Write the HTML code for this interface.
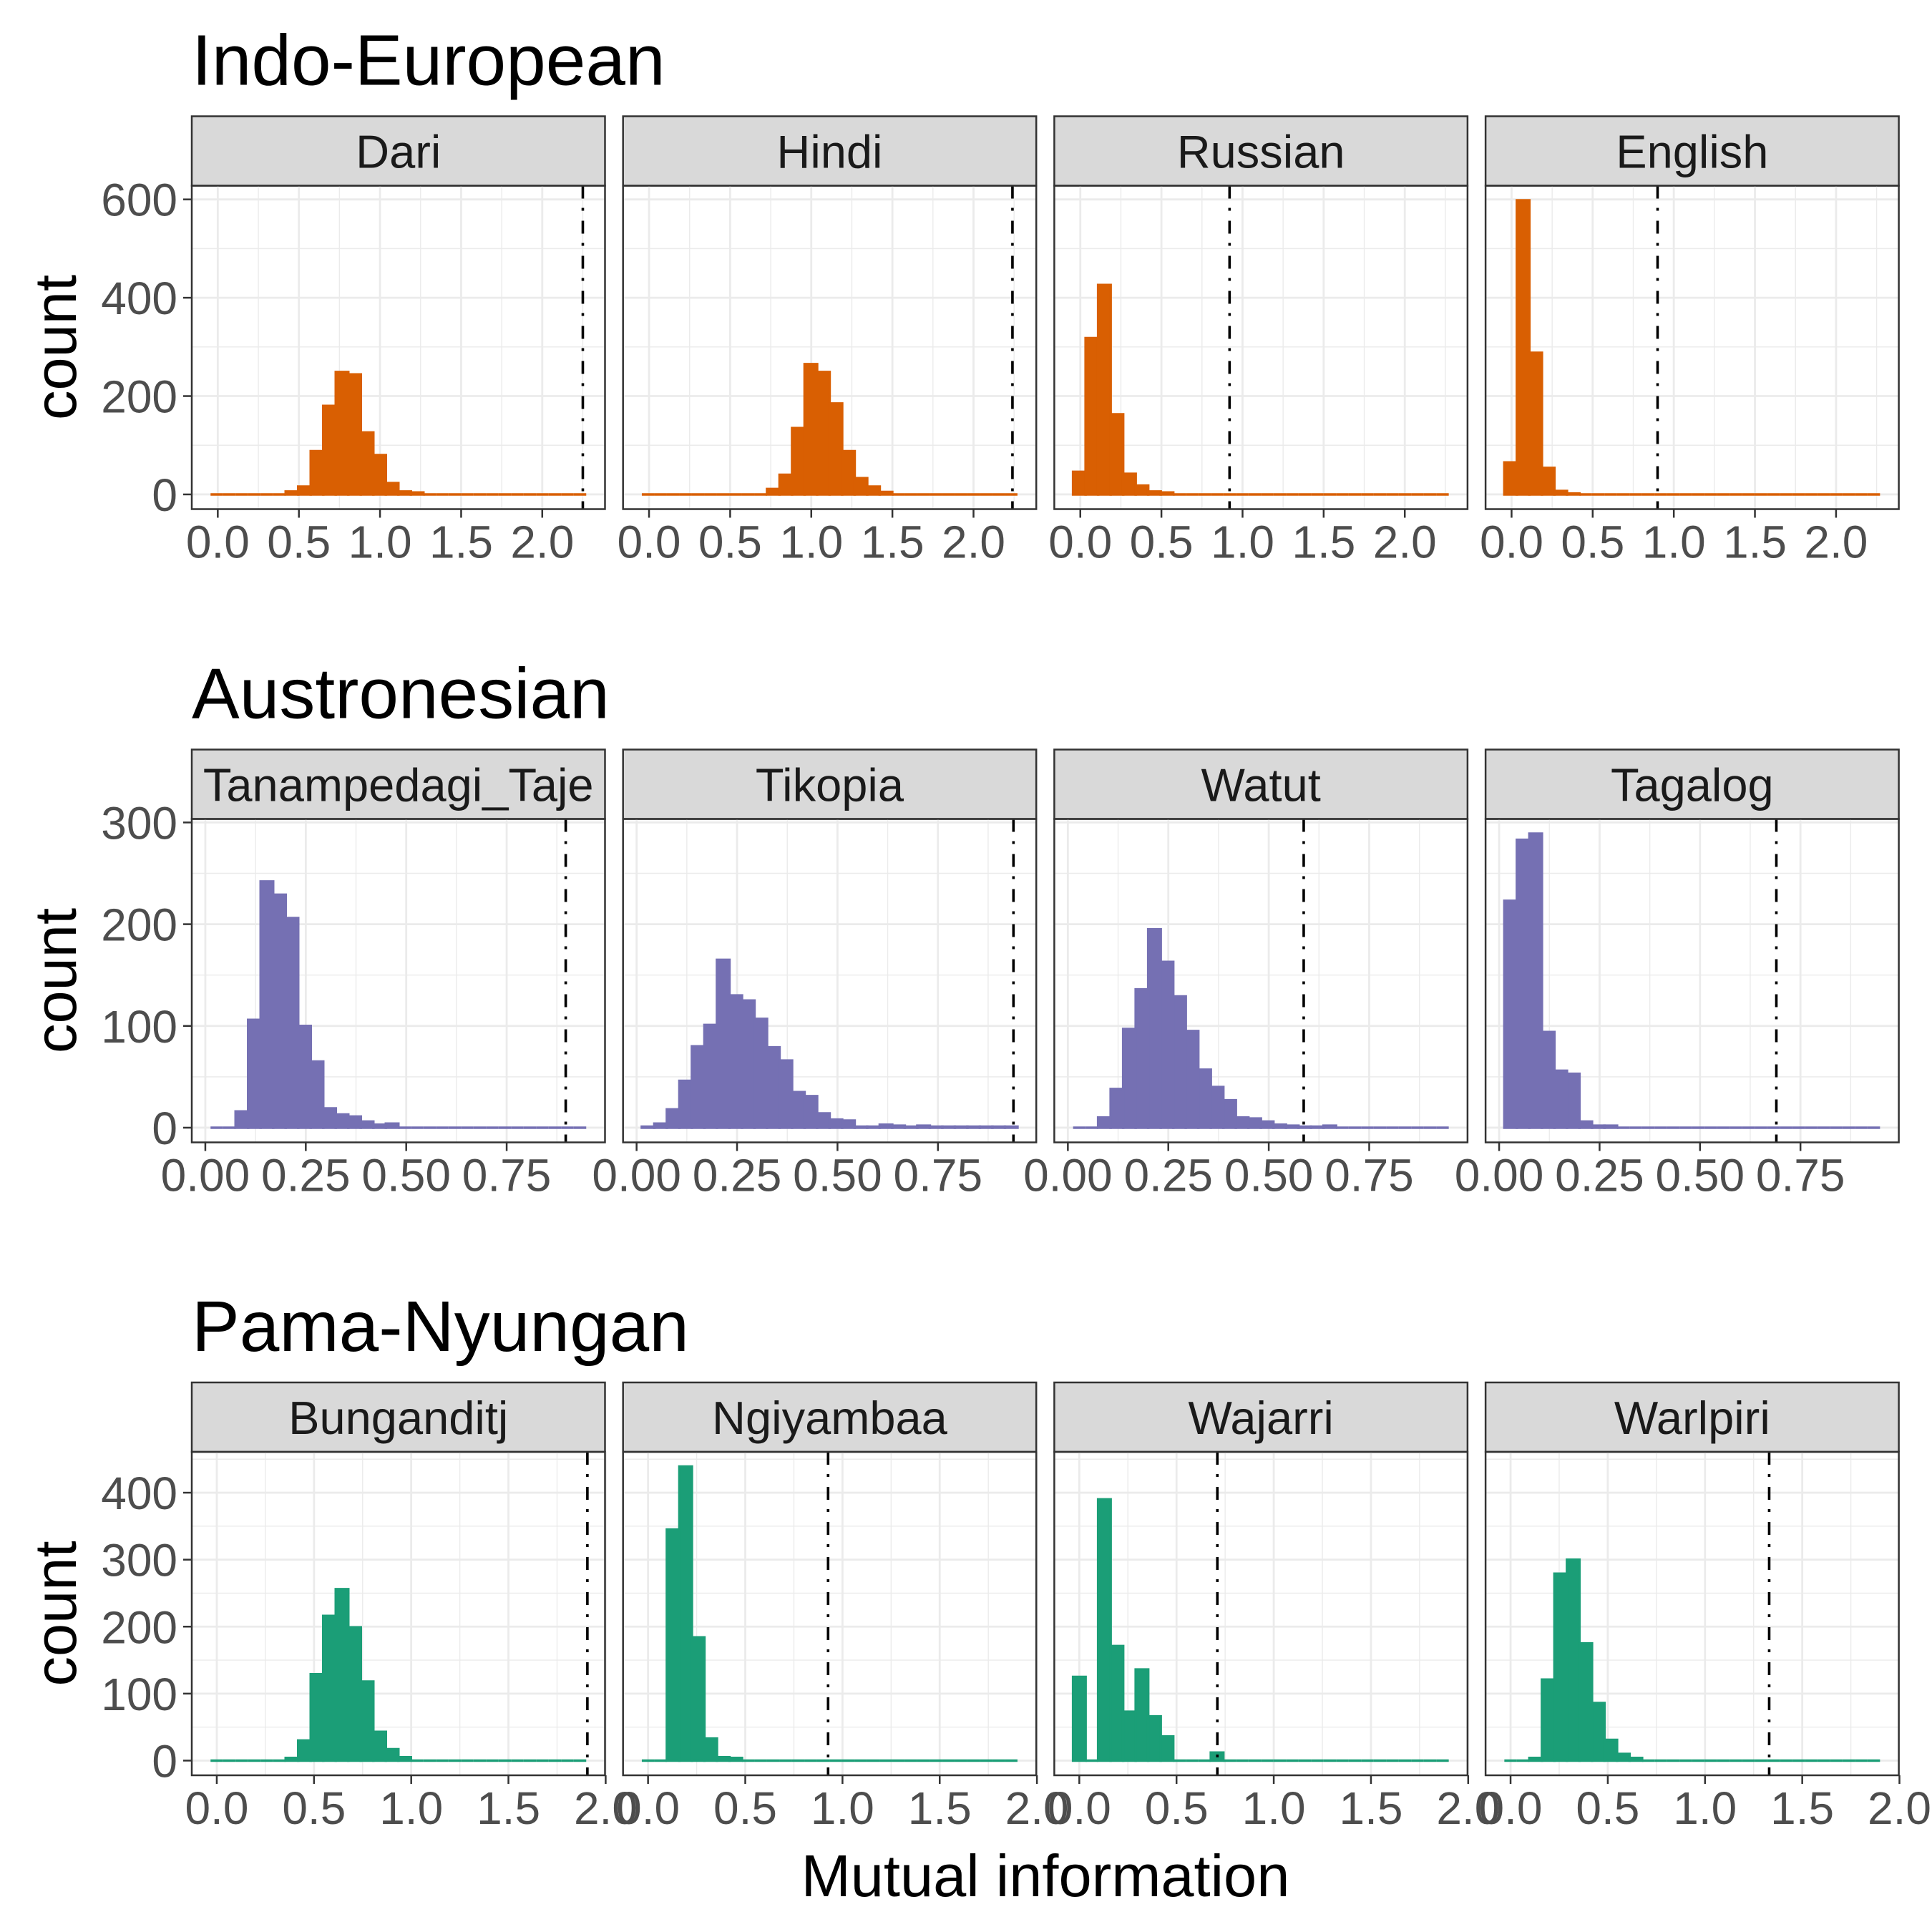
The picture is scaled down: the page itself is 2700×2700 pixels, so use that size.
<!DOCTYPE html>
<html><head><meta charset="utf-8"><style>
html,body{margin:0;padding:0;background:#fff;}
svg{display:block;font-family:"Liberation Sans",Arial,sans-serif;}
</style></head><body>
<svg id="chart" width="2700" height="2700" viewBox="0 0 2700 2700" xmlns="http://www.w3.org/2000/svg"></svg>
<script>
const rowTitles = ["Indo-European", "Austronesian", "Pama-Nyungan"];
const rowColors = ["#d95f02", "#7570b3", "#1b9e77"];
const facetNames = [["Dari","Hindi","Russian","English"],["Tanampedagi_Taje","Tikopia","Watut","Tagalog"],["Bunganditj","Ngiyambaa","Wajarri","Warlpiri"]];
const binStart = [-0.0445, 0.013, -0.032];
const binEnd = [2.271, 0.948, 1.90];
const xTicks = [[0,0.5,1,1.5,2],[0,0.25,0.5,0.75],[0,0.5,1,1.5,2]];
const xTickLabels = [["0.0","0.5","1.0","1.5","2.0"],["0.00","0.25","0.50","0.75"],["0.0","0.5","1.0","1.5","2.0"]];
const xMinor = [[0.25,0.75,1.25,1.75,2.25],[0.125,0.375,0.625,0.875],[0.25,0.75,1.25,1.75]];
const yTicks = [[0,200,400,600],[0,100,200,300],[0,100,200,300,400]];
const yMinor = [[100,300,500],[50,150,250],[50,150,250,350,450]];
const vlines = [[2.25,2.24,0.92,0.90],[0.897,0.938,0.587,0.69],[1.906,0.926,0.71,1.33]];
const countsDari = [0,0,0,0,0,0,6,16,88,180,249,244,126,80,23,6,4,0,0,0,0,0,0,0,0,0,0,0,0,0];
const countsHindi = [0,0,0,0,0,0,0,0,0,0,11,40,135,265,249,185,88,33,16,5,0,0,0,0,0,0,0,0,0,0];
const countsRussian = [46,318,426,163,42,18,6,4,0,0,0,0,0,0,0,0,0,0,0,0,0,0,0,0,0,0,0,0,0,0];
const countsEnglish = [65,598,288,54,7,2,0,0,0,0,0,0,0,0,0,0,0,0,0,0,0,0,0,0,0,0,0,0,0,0];
const countsTanampedagi = [0,0,16,106,242,229,206,100,65,19,13,11,6,3,4,0,0,0,0,0,0,0,0,0,0,0,0,0,0,0];
const countsTikopia = [1,4,18,46,80,101,165,130,125,107,79,66,35,31,14,8,7,1,1,3,2,1,2,1,1,1,1,1,1,1];
const countsWatut = [0,0,10,38,97,136,195,163,129,95,57,40,27,10,9,6,3,2,1,1,2,0,0,0,0,0,0,0,0,0];
const countsTagalog = [223,283,289,94,56,53,6,2,2,0,0,0,0,0,0,0,0,0,0,0,0,0,0,0,0,0,0,0,0,0];
const countsBunganditj = [0,0,0,0,0,0,4,30,129,216,256,199,118,43,17,5,0,0,0,0,0,0,0,0,0,0,0,0,0,0];
const countsNgiyambaa = [0,0,345,439,184,33,5,4,0,0,0,0,0,0,0,0,0,0,0,0,0,0,0,0,0,0,0,0,0,0];
const countsWajarri = [125,0,390,171,73,136,66,36,0,0,0,12,0,0,0,0,0,0,0,0,0,0,0,0,0,0,0,0,0,0];
const countsWarlpiri = [0,0,4,121,279,300,175,86,31,10,4,0,0,0,0,0,0,0,0,0,0,0,0,0,0,0,0,0,0,0];
const allCounts = [[countsDari,countsHindi,countsRussian,countsEnglish],[countsTanampedagi,countsTikopia,countsWatut,countsTagalog],[countsBunganditj,countsNgiyambaa,countsWajarri,countsWarlpiri]];

const NS = "http://www.w3.org/2000/svg";
const svg = document.getElementById("chart");
function mk(tag, attrs, parent){const e=document.createElementNS(NS,tag);for(const k in attrs)e.setAttribute(k,attrs[k]);(parent||svg).appendChild(e);return e;}
const panelLeft=[268,870.7,1473.4,2076.1], panelW=577.5;
const rowTop=[162.5,1047.5,1932], stripH=97, plotH=452;

for(let r=0;r<3;r++){
  const g=mk("g",{});
  
  
  const t=mk("text",{x:268,y:rowTop[r]-44,"font-size":100,fill:"#000"},g);
  t.textContent=rowTitles[r];
  
  
  const nb=30, bw=(binEnd[r]-binStart[r])/nb;
  const xr=binEnd[r]-binStart[r];
  const xmin=binStart[r]-0.05*xr, xmax=binEnd[r]+0.05*xr;
  let maxC=0; allCounts[r].forEach(a=>a.forEach(v=>{if(v>maxC)maxC=v;}));
  const ymin=-0.05*maxC, ymax=1.05*maxC;
  const pTop=rowTop[r]+stripH, pBot=pTop+plotH;
  const ys=v=>pBot-(v-ymin)/(ymax-ymin)*plotH;
  const yt=mk("text",{x:0,y:0,"font-size":83,fill:"#000","text-anchor":"middle",transform:`translate(106,${(pTop+pBot)/2}) rotate(-90)`},g);
  yt.textContent="count";
  
  
  for(let c=0;c<4;c++){
    const L=panelLeft[c];
    const xs=v=>L+(v-xmin)/(xmax-xmin)*panelW;
    const pg=mk("g",{},g);
    
    
    const sr=mk("rect",{x:L,y:rowTop[r],width:panelW,height:stripH,fill:"#d9d9d9",stroke:"#333","stroke-width":2.5},pg);
    
    
    const st=mk("text",{x:L+panelW/2,y:rowTop[r]+72,"font-size":65,fill:"#1a1a1a","text-anchor":"middle"},pg);
    st.textContent=facetNames[r][c];
    
    
    yMinor[r].forEach(v=>{const y=ys(v);if(y>pTop)mk("line",{x1:L,x2:L+panelW,y1:y,y2:y,stroke:"#ebebeb","stroke-width":1.4},pg);});
    xMinor[r].forEach(v=>{const x=xs(v);if(x<L+panelW)mk("line",{x1:x,x2:x,y1:pTop,y2:pBot,stroke:"#ebebeb","stroke-width":1.4},pg);});
    yTicks[r].forEach(v=>{const y=ys(v);mk("line",{x1:L,x2:L+panelW,y1:y,y2:y,stroke:"#ebebeb","stroke-width":2.8},pg);});
    xTicks[r].forEach(v=>{const x=xs(v);mk("line",{x1:x,x2:x,y1:pTop,y2:pBot,stroke:"#ebebeb","stroke-width":2.8},pg);});
    const data=allCounts[r][c];
    data.forEach((v,i)=>{
      const x0=xs(binStart[r]+i*bw), x1=xs(binStart[r]+(i+1)*bw);
      const y0=ys(0), y1=ys(v);
      const b=mk("path",{d:`M${x0},${y0} H${x1} V${y1} H${x0} Z`,fill:rowColors[r],stroke:rowColors[r],"stroke-width":3.5,"stroke-linejoin":"miter"},pg);
      
      
    });
    const vx=xs(vlines[r][c]);
    const vl=mk("line",{x1:vx,x2:vx,y1:pTop,y2:pBot,stroke:"#000","stroke-width":3.6,"stroke-dasharray":"18 13 4 14"},pg);
    
    
    mk("rect",{x:L,y:pTop,width:panelW,height:plotH,fill:"none",stroke:"#333","stroke-width":2.5},pg);
    xTicks[r].forEach((v,k)=>{const x=xs(v);
      mk("line",{x1:x,x2:x,y1:pBot,y2:pBot+12,stroke:"#333","stroke-width":2.5},pg);
      const tl=mk("text",{x:x,y:pBot+68,"font-size":64,fill:"#4d4d4d","text-anchor":"middle"},pg);
      tl.textContent=xTickLabels[r][k];
      
      
    });
    if(c===0){
      yTicks[r].forEach(v=>{const y=ys(v);
        mk("line",{x1:L-12,x2:L,y1:y,y2:y,stroke:"#333","stroke-width":2.5},pg);
        const tl=mk("text",{x:L-20,y:y+23,"font-size":64,fill:"#4d4d4d","text-anchor":"end"},pg);
        tl.textContent=String(v);
        
        
      });
    }
  }
}
const xt=mk("text",{x:1461,y:2650,"font-size":83,fill:"#000","text-anchor":"middle"});
xt.textContent="Mutual information";


</script>
</body></html>
